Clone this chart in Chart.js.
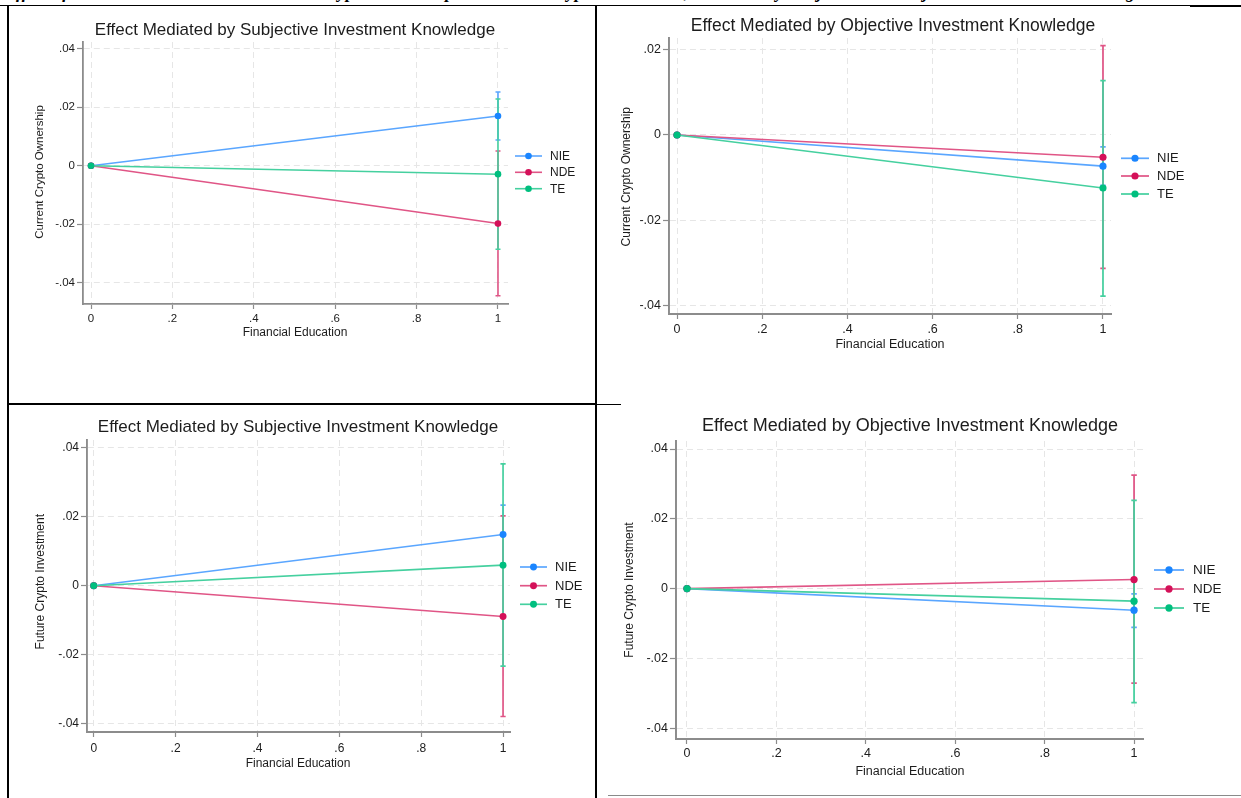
<!DOCTYPE html>
<html>
<head>
<meta charset="utf-8">
<script src="https://cdn.jsdelivr.net/npm/chart.js@4.4.1/dist/chart.umd.min.js"></script>
<style>
  body { margin: 0; background: #fff; width: 1241px; height: 798px; position: relative; overflow: hidden; font-family: "Liberation Sans", Arial, sans-serif; }
  canvas { position: absolute; }
  .rule { position: absolute; background: #000; }
  .caption { position: absolute; left: 0; top: 0; width: 1241px; height: 5px; overflow: hidden; }
  .caption span { position: absolute; left: 4px; top: -19px; font: italic bold 18px "Liberation Serif", serif; line-height: 22px; white-space: nowrap; color: #000; }
</style>
</head>
<body>
<div class="caption"><span>Effect of Financial Education on Current Crypto Ownership and Future Crypto Investment, Mediated by Subjective and Objective Investment Knowledge</span></div>

<!-- table rules -->
<div class="rule" style="left:0;top:5px;width:1190px;height:1px"></div>
<div class="rule" style="left:1190px;top:5px;width:51px;height:2px"></div>
<div class="rule" style="left:7px;top:6px;width:2px;height:792px"></div>
<div class="rule" style="left:595px;top:6px;width:2px;height:792px"></div>
<div class="rule" style="left:7px;top:403px;width:590px;height:2px"></div>
<div class="rule" style="left:597px;top:404px;width:24px;height:1px"></div>
<div class="rule" style="left:608px;top:795px;width:633px;height:1px;background:#8a8a8a"></div>

<canvas id="p1" width="586" height="397" style="left:9px;top:6px"></canvas>
<canvas id="p2" width="644" height="397" style="left:597px;top:6px"></canvas>
<canvas id="p3" width="586" height="392" style="left:9px;top:406px"></canvas>
<canvas id="p4" width="644" height="392" style="left:597px;top:406px"></canvas>

<script>
// ---- data ----
const X_VALUES = [0, 1];
const X_TICKS = [0, 0.2, 0.4, 0.6, 0.8, 1];
const Y_TICKS_WIDE = [-0.04, -0.02, 0, 0.02, 0.04];
const Y_TICKS_NARROW = [-0.04, -0.02, 0, 0.02];
const SERIES_NAMES = ['NIE', 'NDE', 'TE'];

const TITLE_SUBJ = 'Effect Mediated by Subjective Investment Knowledge';
const TITLE_OBJ = 'Effect Mediated by Objective Investment Knowledge';
const Y_TITLE_CURRENT = 'Current Crypto Ownership';
const Y_TITLE_FUTURE = 'Future Crypto Investment';
const X_TITLE = 'Financial Education';

// current ownership, subjective knowledge
const P1_NIE = [0, 0.0170];
const P1_NDE = [0, -0.0198];
const P1_TE = [0, -0.0029];
const P1_LOW = [0.0088, -0.0445, -0.0286];   // CI at x = 1 (NIE, NDE, TE)
const P1_HIGH = [0.0252, 0.0050, 0.0228];

// current ownership, objective knowledge
const P2_NIE = [0, -0.0073];
const P2_NDE = [0, -0.0052];
const P2_TE = [0, -0.0124];
const P2_LOW = [-0.0118, -0.0312, -0.0377];
const P2_HIGH = [-0.0028, 0.0209, 0.0127];

// future investment, subjective knowledge
const P3_NIE = [0, 0.0149];
const P3_NDE = [0, -0.0089];
const P3_TE = [0, 0.0060];
const P3_LOW = [0.0064, -0.0379, -0.0233];
const P3_HIGH = [0.0234, 0.0203, 0.0354];

// future investment, objective knowledge
const P4_NIE = [0, -0.0062];
const P4_NDE = [0, 0.0026];
const P4_TE = [0, -0.0036];
const P4_LOW = [-0.0111, -0.0271, -0.0327];
const P4_HIGH = [-0.0015, 0.0325, 0.0253];

// ---- styling ----
const COLORS = ['#1a85ff', '#d41159', '#00bf7f'];
const LIGHT = ['#5aa6ff', '#e05586', '#45d09f'];   // lines and CI bars
const FONT = '"Liberation Sans", Arial, Helvetica, sans-serif';

function stataLabel(v) {
  return String(v).replace('0.', '.');
}

function decor(p) {
  const L = p.layout;
  return {
    id: 'decor',
    beforeDatasetsDraw(chart) {
      const { ctx, scales: { x, y } } = chart;
      const px = x.getPixelForValue(X_VALUES[1]);
      ctx.save();
      ctx.lineWidth = 1.6 * L.s;
      SERIES_NAMES.forEach((n, i) => {
        const y1 = y.getPixelForValue(p.low[i]);
        const y2 = y.getPixelForValue(p.high[i]);
        const cap = 2.5 * L.s;
        ctx.strokeStyle = LIGHT[i];
        ctx.beginPath();
        ctx.moveTo(px, y1); ctx.lineTo(px, y2);
        ctx.moveTo(px - cap, y1); ctx.lineTo(px + cap, y1);
        ctx.moveTo(px - cap, y2); ctx.lineTo(px + cap, y2);
        ctx.stroke();
      });
      ctx.restore();
    },
    afterDraw(chart) {
      const ctx = chart.ctx;
      ctx.save();
      ctx.fillStyle = '#1c1c1c';
      ctx.textAlign = 'center';
      ctx.textBaseline = 'middle';
      ctx.font = L.title[2] + 'px ' + FONT;
      ctx.fillText(p.title, L.title[0], L.title[1]);
      ctx.font = L.xTitle[2] + 'px ' + FONT;
      ctx.fillText(X_TITLE, L.xTitle[0], L.xTitle[1]);
      ctx.save();
      ctx.translate(L.yTitle[0], L.yTitle[1]);
      ctx.rotate(-Math.PI / 2);
      ctx.font = L.yTitle[2] + 'px ' + FONT;
      ctx.fillText(p.yTitle, 0, 0);
      ctx.restore();

      // legend
      const lg = L.legend;
      ctx.textAlign = 'left';
      ctx.font = lg.font + 'px ' + FONT;
      SERIES_NAMES.forEach((n, i) => {
        const yy = lg.ys[i];
        ctx.strokeStyle = LIGHT[i];
        ctx.lineWidth = 1.6 * L.s;
        ctx.beginPath();
        ctx.moveTo(lg.x0, yy); ctx.lineTo(lg.x1, yy);
        ctx.stroke();
        ctx.fillStyle = COLORS[i];
        ctx.beginPath();
        ctx.arc((lg.x0 + lg.x1) / 2, yy, 3.3 * L.s, 0, Math.PI * 2);
        ctx.fill();
        ctx.fillStyle = '#1c1c1c';
        ctx.fillText(n, lg.tx, yy + 0.5);
      });
      ctx.restore();
    }
  };
}

function axisOptions(L, ticks, isX) {
  return {
    type: 'linear',
    min: isX ? L.xMin : L.yMin,
    max: isX ? L.xMax : L.yMax,
    afterBuildTicks: s => { s.ticks = ticks.map(v => ({ value: v })); },
    afterFit: s => {
      if (isX) s.height = L.H - L.ca.bottom;
      else s.width = L.ca.left;
    },
    ticks: {
      callback: stataLabel,
      autoSkip: false,
      maxRotation: 0,
      color: '#1c1c1c',
      font: { family: FONT, size: L.tickFont },
      padding: isX ? L.xPad : 2
    },
    grid: {
      color: '#e6e6e6',
      lineWidth: 1,
      tickColor: '#8c8c8c',
      tickLength: isX ? 5 : 6,
      tickWidth: 1.2
    },
    border: { color: '#8c8c8c', width: 1.8 * L.s, dash: [6, 4] }
  };
}

function makePanel(id, p) {
  const L = p.layout;
  new Chart(document.getElementById(id), {
    type: 'line',
    data: {
      datasets: SERIES_NAMES.map((name, i) => ({
        label: name,
        data: X_VALUES.map((xv, k) => ({ x: xv, y: p.values[i][k] })),
        order: SERIES_NAMES.length - i,   // TE drawn on top, as in Stata
        borderColor: LIGHT[i],
        borderWidth: 1.5 * L.s,
        pointRadius: 3.3 * L.s,
        pointBackgroundColor: COLORS[i],
        pointBorderWidth: 0,
        tension: 0
      }))
    },
    options: {
      responsive: false,
      animation: false,
      events: [],
      layout: { padding: { left: 0, top: L.ca.top, right: L.W - L.ca.right, bottom: 0 } },
      plugins: { legend: { display: false }, tooltip: { enabled: false }, title: { display: false } },
      scales: {
        x: axisOptions(L, X_TICKS, true),
        y: axisOptions(L, p.yTicks, false)
      }
    },
    plugins: [decor(p)]
  });
}

makePanel('p1', {
  title: TITLE_SUBJ, yTitle: Y_TITLE_CURRENT, yTicks: Y_TICKS_WIDE,
  values: [P1_NIE, P1_NDE, P1_TE], low: P1_LOW, high: P1_HIGH,
  layout: {
    W: 586, H: 397, s: 1, ca: { left: 74, right: 499, top: 36, bottom: 298 },
    xMin: -0.0197, xMax: 1.0246, yMin: -0.0473, yMax: 0.0423,
    tickFont: 11.5, xPad: 3,
    title: [286, 24, 17], yTitle: [30.5, 166, 11.5], xTitle: [286, 327, 12],
    legend: { x0: 506, x1: 533, tx: 541, ys: [150, 166.3, 182.7], font: 12 }
  }
});

makePanel('p2', {
  title: TITLE_OBJ, yTitle: Y_TITLE_CURRENT, yTicks: Y_TICKS_NARROW,
  values: [P2_NIE, P2_NDE, P2_TE], low: P2_LOW, high: P2_HIGH,
  layout: {
    W: 644, H: 397, s: 1.08, ca: { left: 72, right: 514, top: 32, bottom: 308 },
    xMin: -0.0188, xMax: 1.0188, yMin: -0.0419, yMax: 0.0227,
    tickFont: 12.5, xPad: 3,
    title: [296, 20, 17.5], yTitle: [29.7, 170.7, 12], xTitle: [293, 339, 12.5],
    legend: { x0: 524, x1: 552, tx: 560, ys: [152.3, 170, 188], font: 13 }
  }
});

makePanel('p3', {
  title: TITLE_SUBJ, yTitle: Y_TITLE_FUTURE, yTicks: Y_TICKS_WIDE,
  values: [P3_NIE, P3_NDE, P3_TE], low: P3_LOW, high: P3_HIGH,
  layout: {
    W: 586, H: 392, s: 1.05, ca: { left: 78, right: 501, top: 34, bottom: 326 },
    xMin: -0.0164, xMax: 1.017, yMin: -0.0424, yMax: 0.0423,
    tickFont: 12, xPad: 4,
    title: [289, 21, 17], yTitle: [31.7, 175.7, 12], xTitle: [289, 358, 12],
    legend: { x0: 511, x1: 538, tx: 546, ys: [161, 179.7, 198.3], font: 13 }
  }
});

makePanel('p4', {
  title: TITLE_OBJ, yTitle: Y_TITLE_FUTURE, yTicks: Y_TICKS_WIDE,
  values: [P4_NIE, P4_NDE, P4_TE], low: P4_LOW, high: P4_HIGH,
  layout: {
    W: 644, H: 392, s: 1.1, ca: { left: 79, right: 546, top: 35, bottom: 333 },
    xMin: -0.0246, xMax: 1.020, yMin: -0.0431, yMax: 0.0423,
    tickFont: 12.5, xPad: 2,
    title: [313, 20, 18], yTitle: [33, 184, 12], xTitle: [313, 366, 12.5],
    legend: { x0: 557, x1: 587, tx: 596, ys: [164, 183, 202], font: 13.5 }
  }
});
</script>
</body>
</html>
